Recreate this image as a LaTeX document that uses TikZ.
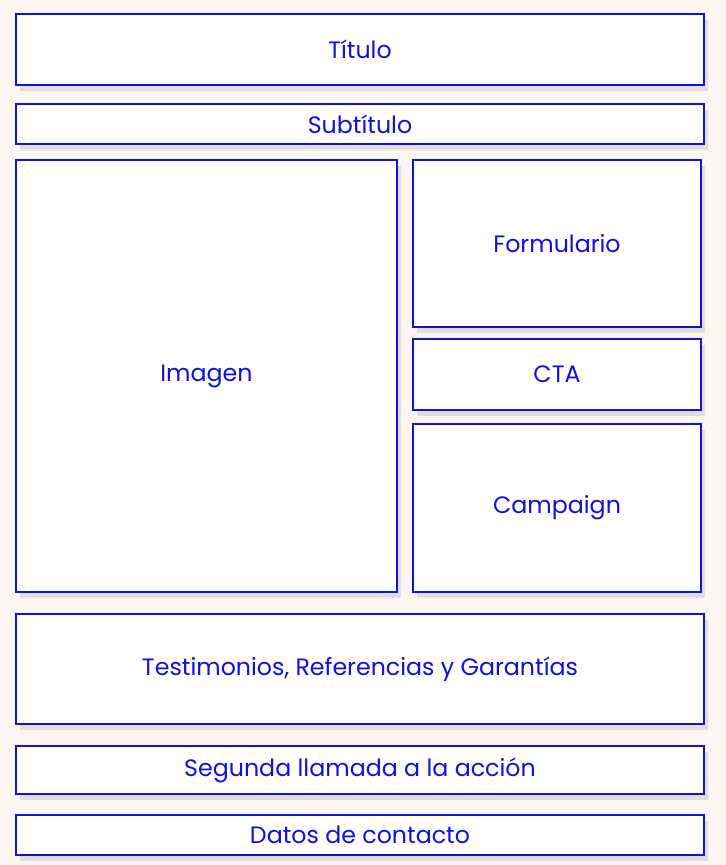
\documentclass[tikz,border=0pt]{standalone}
\usepackage{fontspec}
\setmainfont{Poppins}
\usepackage{tikz}
\usetikzlibrary{shadows}
\definecolor{cream}{HTML}{FBF6F1}
\definecolor{wireblue}{HTML}{1010E0}

\begin{document}
\begin{tikzpicture}[
    x=0.02cm, y=-0.02cm,
    every node/.style={font=\fontsize{13.5}{16}\selectfont, text=wireblue, align=center},
    block/.style={rectangle, draw=wireblue, line width=1.2pt, fill=white, inner sep=0pt,
        drop shadow={shadow xshift=2.5pt, shadow yshift=-3.5pt, fill=black!30, opacity=0.35}}
]
\fill[cream] (0,0) rectangle (725,865);
\node[block, minimum width=13.76cm, minimum height=1.42cm] (titulo) at (360, 49.5) {Título};
\node[block, minimum width=13.76cm, minimum height=0.80cm] (subtitulo) at (360, 124) {Subtítulo};
\node[block, minimum width=7.62cm, minimum height=8.64cm] (imagen) at (206.5, 376) {Imagen};
\node[block, minimum width=5.76cm, minimum height=3.34cm] (formulario) at (557, 243.5) {Formulario};
\node[block, minimum width=5.76cm, minimum height=1.42cm] (cta) at (557, 374.5) {CTA};
\node[block, minimum width=5.76cm, minimum height=3.36cm] (campaign) at (557, 508) {Campaign};
\node[block, minimum width=13.76cm, minimum height=2.20cm] (testimonios) at (360, 669) {Testimonios, Referencias y Garantías};
\node[block, minimum width=13.76cm, minimum height=0.96cm] (segunda) at (360, 770) {Segunda llamada a la acción};
\node[block, minimum width=13.76cm, minimum height=0.80cm] (datos) at (360, 835) {Datos de contacto};
\end{tikzpicture}
\end{document}
